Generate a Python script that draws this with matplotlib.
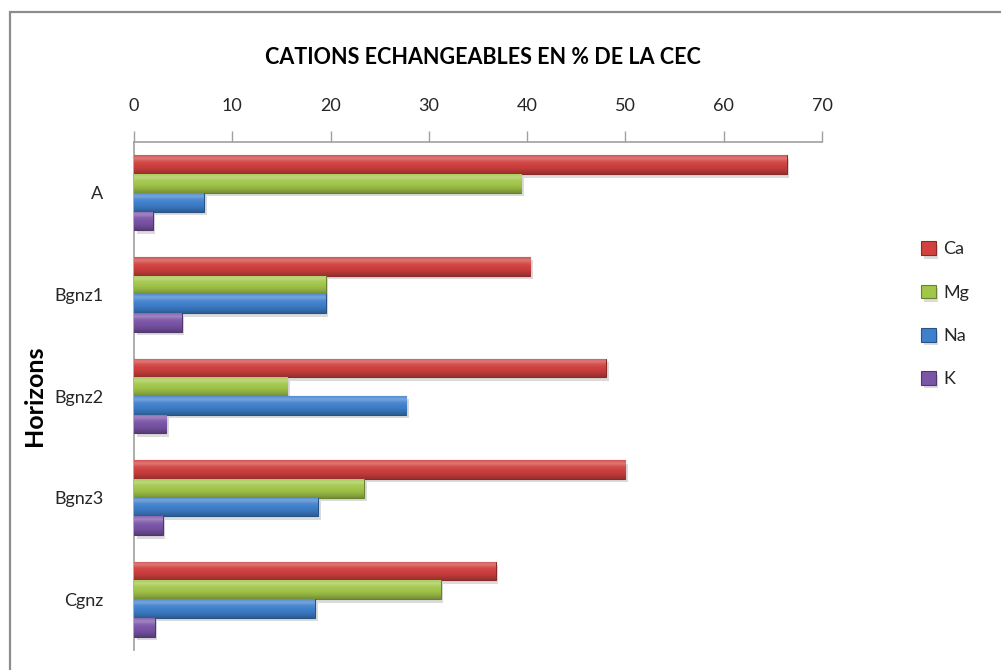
import matplotlib
matplotlib.use("Agg")
import matplotlib.pyplot as plt
import numpy as np
from matplotlib.colors import LinearSegmentedColormap, to_rgb
from matplotlib.patches import Rectangle
import matplotlib.patheffects as pe

categories = ["A", "Bgnz1", "Bgnz2", "Bgnz3", "Cgnz"]
series = ["Ca", "Mg", "Na", "K"]
ca = [66.4, 40.3, 48.0, 50.0, 36.8]
mg = [39.4, 19.5, 15.6, 23.4, 31.2]
na = [7.1, 19.5, 27.7, 18.7, 18.4]
k = [1.9, 4.85, 3.3, 2.9, 2.1]
xticks = [0, 10, 20, 30, 40, 50, 60, 70]

values = [ca, mg, na, k]
colors = ["#D0413F", "#A2C64A", "#3F80CC", "#7B55A8"]

FONT = ["Lato", "DejaVu Sans"]
plt.rcParams["font.family"] = FONT

W, H = 1001, 670
fig = plt.figure(figsize=(W / 100, H / 100), dpi=100)
fig.patch.set_facecolor("white")

# outer frame (top & left visible)
fig.patches.append(Rectangle((10 / W, -0.05), 1.1, (658 / H) + 0.05,
                             transform=fig.transFigure, fill=False,
                             edgecolor="#8c8c8c", linewidth=1.6))

ax = fig.add_axes([134 / W, 1 - 650 / H, (822 - 134) / W, (650 - 142) / H])
ax.set_facecolor("none")

y = np.arange(len(categories))
bh = 0.1845
offsets = [-1.5 * bh, -0.5 * bh, 0.5 * bh, 1.5 * bh]


def shade(c, f):
    r = np.array(to_rgb(c))
    if f >= 0:
        return tuple(r + (1 - r) * f)
    return tuple(r * (1 + f))


for vals, col, off, name in zip(values, colors, offsets, series):
    bars = ax.barh(y + off, vals, height=bh, color=col, label=name,
                   edgecolor=shade(col, -0.35), linewidth=0.8, zorder=3,
                   path_effects=[pe.SimplePatchShadow(offset=(2, -2.5), shadow_rgbFace="#9a9a9a", alpha=0.35),
                                 pe.Normal()])
    # top -> bottom: bright highlight, main colour, darker base
    cmap = LinearSegmentedColormap.from_list(
        name, [shade(col, 0.10), shade(col, 0.30), shade(col, 0.08), shade(col, 0.0),
               shade(col, -0.05), shade(col, -0.15), shade(col, -0.28)])
    grad = np.linspace(0, 1, 64).reshape(-1, 1)
    for b in bars:
        x0, y0 = b.get_x(), b.get_y()
        w, h = b.get_width(), b.get_height()
        im = ax.imshow(grad, cmap=cmap, aspect="auto",
                       extent=(x0, x0 + w, y0 + h, y0), origin="upper",
                       zorder=3.5, interpolation="bicubic")
        im.set_clip_path(b)

ax.set_xlim(0, 70)
ax.set_ylim(len(categories) - 0.5, -0.5)
ax.xaxis.tick_top()
ax.set_xticks(xticks)
ax.set_xticklabels([str(t) for t in xticks], fontsize=13, color="#262626")
ax.tick_params(axis="x", direction="out", length=8, width=1, color="#a0a0a0", pad=12)
ax.set_yticks(y)
ax.set_yticklabels(categories, fontsize=13, color="#262626")
ax.tick_params(axis="y", length=0, pad=22)
for s in ["right", "bottom"]:
    ax.spines[s].set_visible(False)
for s in ["top", "left"]:
    ax.spines[s].set_color("#a0a0a0")
    ax.spines[s].set_linewidth(1.2)

fig.text(483 / W, 1 - 57 / H, "CATIONS ECHANGEABLES EN % DE LA CEC",
         ha="center", va="center", fontsize=15.5, fontweight="bold", color="black")
fig.text(35 / W, 1 - 396 / H, "Horizons", rotation=90, ha="center", va="center",
         fontsize=18, fontweight="bold", color="black")

leg = ax.legend(loc="upper left", bbox_to_anchor=(905 / W, 1 - 225 / H),
                bbox_transform=fig.transFigure, frameon=False, fontsize=13,
                handlelength=0.8, handleheight=0.8, handletextpad=0.4,
                labelspacing=1.5, labelcolor="#262626")

fig.savefig("out.png", dpi=100, facecolor="white")
